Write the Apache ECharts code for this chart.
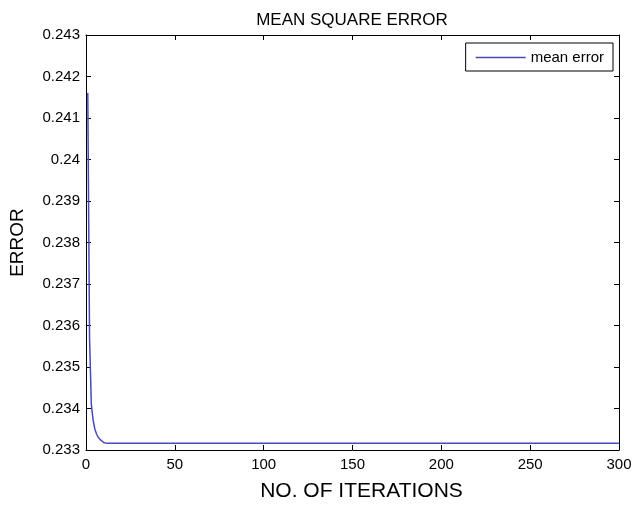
<!DOCTYPE html>
<html>
<head>
<meta charset="utf-8">
<script src="https://cdn.jsdelivr.net/npm/echarts@6/dist/echarts.min.js"></script>
<style>
  html, body { margin: 0; padding: 0; background: #fff; }
  #chart { width: 633px; height: 506px; }
</style>
</head>
<body>
<div id="chart"></div>
<script>
// Training curve: mean square error per iteration (flat after iteration 12)
const iterations = [1, 2, 3, 4, 5, 6, 7, 8, 9, 10, 11, 12, 300];
const meanError = [0.2416, 0.2357, 0.2341, 0.23372, 0.2335, 0.23338, 0.2333,
                   0.23325, 0.23321, 0.23318, 0.23317, 0.23316, 0.23316];
const xTicks = [0, 50, 100, 150, 200, 250, 300];
const yTicks = [0.233, 0.234, 0.235, 0.236, 0.237, 0.238, 0.239, 0.24, 0.241, 0.242, 0.243];

const FONT = '"Liberation Sans", Arial, sans-serif';
const points = iterations.map((it, i) => [it, meanError[i]]);

const boxAxisX = (pos, showLabel) => ({
  type: 'value', position: pos, min: xTicks[0], max: xTicks[xTicks.length - 1], interval: 50,
  axisLine: { show: true, onZero: false, lineStyle: { color: '#000', width: 1 } },
  axisTick: { show: true, inside: true, length: 5, lineStyle: { color: '#000' } },
  axisLabel: { show: showLabel, margin: 7, color: '#000', fontSize: 15, fontFamily: FONT },
  splitLine: { show: false }
});
const boxAxisY = (pos, showLabel) => ({
  type: 'value', position: pos, min: yTicks[0], max: yTicks[yTicks.length - 1], interval: 0.001,
  axisLine: { show: true, onZero: false, lineStyle: { color: '#000', width: 1 } },
  axisTick: { show: true, inside: true, length: 5, lineStyle: { color: '#000' } },
  axisLabel: {
    show: showLabel, margin: 6, color: '#000', fontSize: 15, fontFamily: FONT,
    formatter: v => (+v.toFixed(3)).toString()
  },
  splitLine: { show: false }
});

const chart = echarts.init(document.getElementById('chart'), null, { renderer: 'canvas' });
chart.setOption({
  animation: false,
  backgroundColor: '#fff',
  title: {
    text: 'MEAN SQUARE ERROR',
    left: 347, top: 7, textAlign: 'center',
    textStyle: { fontFamily: FONT, fontSize: 17, fontWeight: 'normal', color: '#000' }
  },
  grid: { left: 86, right: 14, top: 35, bottom: 56, containLabel: false, outerBoundsMode: 'none' },
  legend: {
    data: ['mean error'],
    right: 20, top: 43,
    orient: 'vertical',
    backgroundColor: '#fff',
    borderColor: '#000', borderWidth: 1, borderRadius: 0,
    padding: [7, 9, 6, 10],
    icon: 'rect', itemWidth: 50, itemHeight: 1.5, itemGap: 4,
    textStyle: { fontFamily: FONT, fontSize: 15, color: '#000' }
  },
  xAxis: [
    Object.assign(boxAxisX('bottom', true), {
      name: 'NO. OF ITERATIONS', nameLocation: 'middle', nameGap: 31,
      nameTextStyle: { fontFamily: FONT, fontSize: 21, color: '#000', padding: [0, 0, 0, 18] }
    }),
    boxAxisX('top', false)
  ],
  yAxis: [
    Object.assign(boxAxisY('left', true), {
      name: 'ERROR', nameLocation: 'middle', nameGap: 59,
      nameTextStyle: { fontFamily: FONT, fontSize: 19, color: '#000' }
    }),
    boxAxisY('right', false)
  ],
  series: [{
    name: 'mean error',
    type: 'line',
    xAxisIndex: 0, yAxisIndex: 0,
    data: points,
    showSymbol: false,
    lineStyle: { color: '#4848c0', width: 1.5 },
    itemStyle: { color: '#4848c0' }
  }]
});
</script>
</body>
</html>
